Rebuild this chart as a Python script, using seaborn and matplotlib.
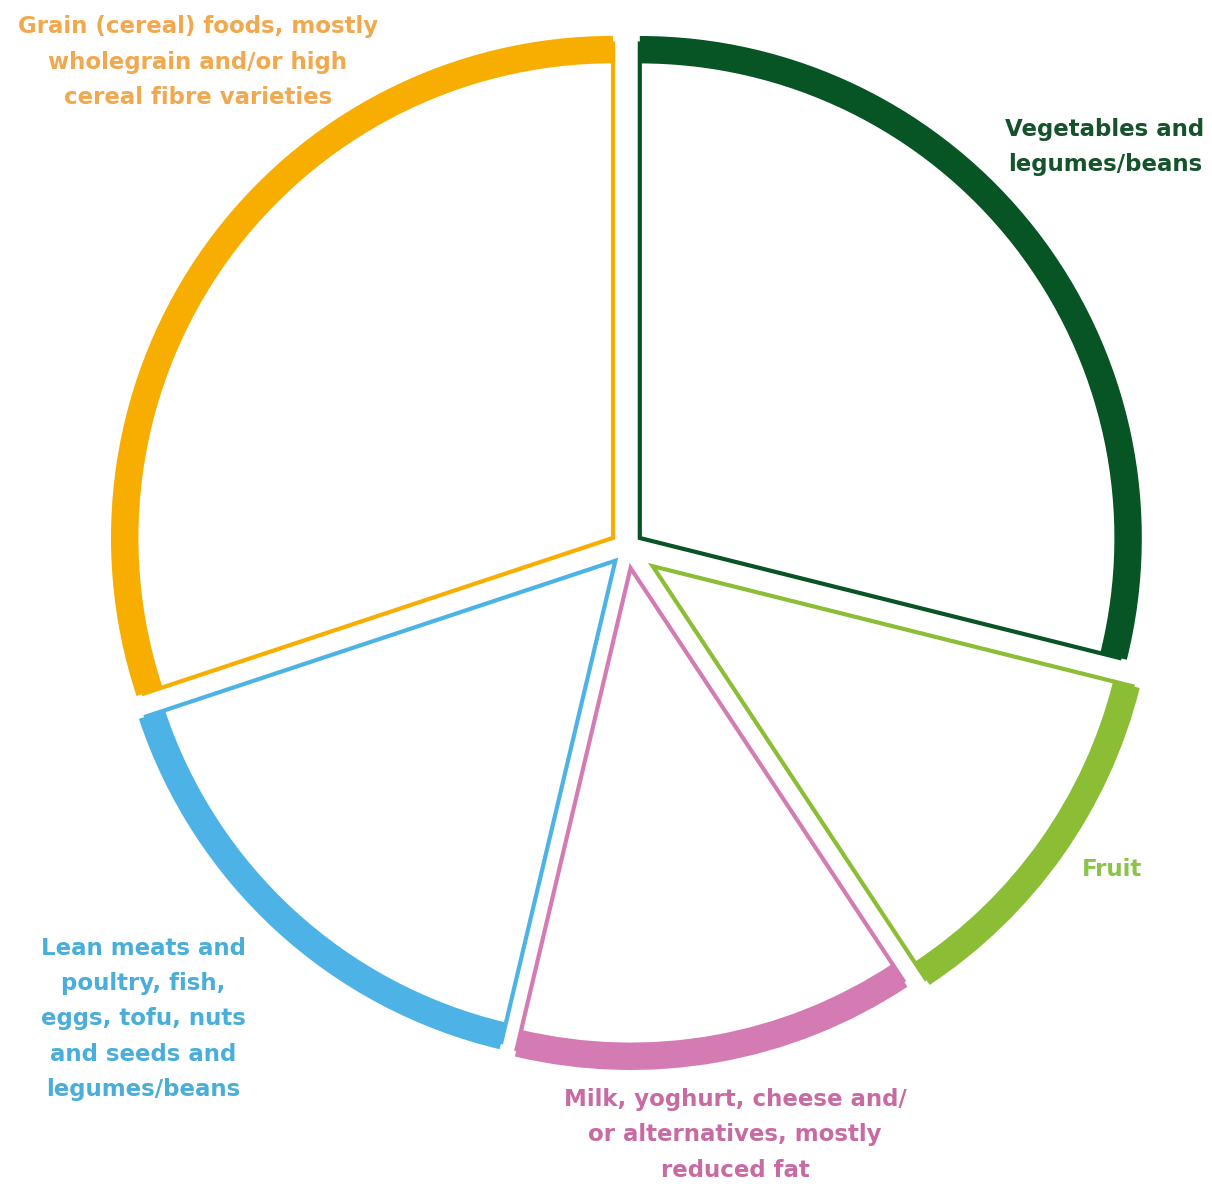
import matplotlib
matplotlib.use("Agg")
import matplotlib.pyplot as plt
import seaborn as sns

# Datos del grafico (porcentaje de cada grupo de alimentos)
grupos = ["Vegetables and\nlegumes/beans",
          "Fruit",
          "Milk, yoghurt, cheese and/\nor alternatives, mostly\nreduced fat",
          "Lean meats and\npoultry, fish,\neggs, tofu, nuts\nand seeds and\nlegumes/beans",
          "Grain (cereal) foods, mostly\nwholegrain and/or high\ncereal fibre varieties"]
porcentajes = [28.9, 11.8, 13.0, 16.2, 30.1]
colores_arco = ["#075424", "#8BBE35", "#D47BB4", "#4DB3E6", "#F7AE00"]
colores_texto = ["#14532B", "#8CC34B", "#C96BA3", "#4AAEDB", "#F2A84E"]
separacion = [0.032, 0.062, 0.04, 0.034, 0.034]

sns.set_theme(style="white")
plt.rcParams['font.family'] = ['DejaVu Sans']

fig = plt.figure(figsize=(12.12, 11.87), dpi=100)
ax = fig.add_axes([0, 0, 1, 1])

radio = 502 / 508

# Cuñas blancas con borde delgado
cunas, _ = ax.pie(porcentajes, startangle=90, counterclock=False,
                  explode=separacion, radius=radio * 0.985,
                  wedgeprops=dict(facecolor="white", linewidth=3))
for cuna, c in zip(cunas, colores_arco):
    cuna.set_edgecolor(c)

# Arco exterior grueso
arcos, _ = ax.pie(porcentajes, startangle=90, counterclock=False,
                  explode=separacion, radius=radio,
                  wedgeprops=dict(width=0.054, linewidth=0))
for arco, c in zip(arcos, colores_arco):
    arco.set_facecolor(c)

# Centro del pastel en el pixel (627, 548), 508 px por unidad
ax.set_xlim(-627 / 508, (1212 - 627) / 508)
ax.set_ylim(-(1187 - 548) / 508, 548 / 508)
ax.set_aspect("equal")
ax.axis("off")

# Etiquetas (posicion en pixeles del centro del texto)
posiciones = [(1105, 147), (1112, 870), (735, 1135), (143, 1019), (198, 62)]
for texto, c, (px, py) in zip(grupos, colores_texto, posiciones):
    fig.text(px / 1212, 1 - py / 1187, texto, color=c, fontsize=16.5,
             fontweight="bold", ha="center", va="center",
             multialignment="center", linespacing=1.68)

fig.savefig("out.png", dpi=100)
